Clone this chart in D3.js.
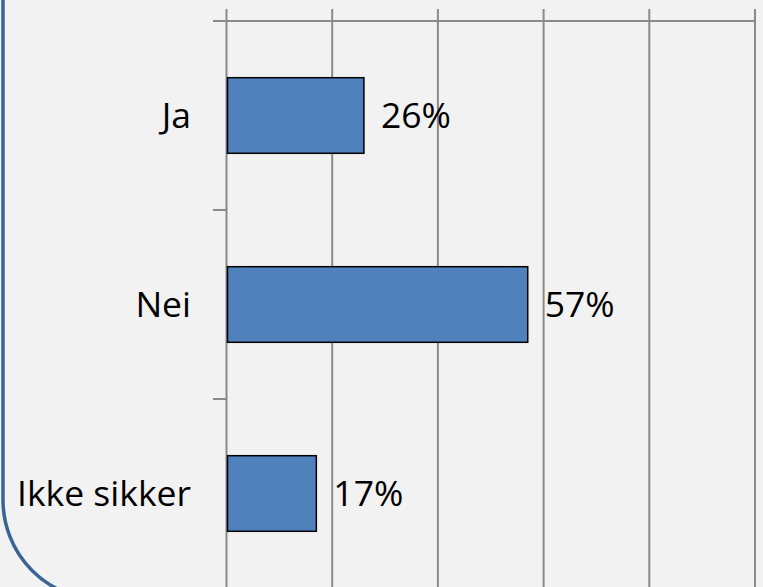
<!DOCTYPE html>
<html>
<head>
<meta charset="utf-8">
<script src="https://cdn.jsdelivr.net/npm/d3@7"></script>
<style>
  html, body { margin: 0; padding: 0; background: #f2f2f2; overflow: hidden; }
  text { font-family: 'Open Sans', sans-serif; fill: #000; }
</style>
</head>
<body>
<script>
var categories = ['Ja', 'Nei', 'Ikke sikker'];
var values = [26, 57, 17];
var valueLabels = ['26%', '57%', '17%'];
var gridTicks = [0, 20, 40, 60, 80, 100];

var width = 763,
    height = 587;

var svg = d3.select('body')
  .append('svg')
  .attr('width', width)
  .attr('height', height);

// background + rounded chart border (only the left / bottom-left shows)
svg.append('rect')
  .attr('width', width)
  .attr('height', height)
  .attr('fill', '#f2f2f2');

svg.append('rect')
  .attr('x', 3)
  .attr('y', -300)
  .attr('width', 1000)
  .attr('height', 900)
  .attr('rx', 100)
  .attr('ry', 100)
  .attr('fill', 'none')
  .attr('stroke', '#3a6494')
  .attr('stroke-width', 3.5);

var x = d3.scaleLinear()
  .domain([0, 100])
  .range([226.5, 755]);

var y = d3.scaleBand()
  .domain(categories)
  .range([21, 588])
  .paddingInner(0.6)
  .paddingOuter(0.3);

// vertical gridlines with tick marks above the top axis
var grid = svg.append('g');
grid.selectAll('line.grid')
  .data(gridTicks)
  .enter()
  .append('line')
  .attr('x1', function(d) { return x(d); })
  .attr('x2', function(d) { return x(d); })
  .attr('y1', 9)
  .attr('y2', height + 5)
  .attr('stroke', '#8a8a8a')
  .attr('stroke-width', 2);

// top value axis line
svg.append('line')
  .attr('x1', 213)
  .attr('x2', x(100) + 1)
  .attr('y1', 21)
  .attr('y2', 21)
  .attr('stroke', '#8a8a8a')
  .attr('stroke-width', 2);

// category tick marks between bands
var step = y.step();
var bounds = [21, 21 + step, 21 + 2 * step];
svg.append('g')
  .selectAll('line')
  .data(bounds.slice(1))
  .enter()
  .append('line')
  .attr('x1', 213)
  .attr('x2', x(0))
  .attr('y1', function(d) { return d; })
  .attr('y2', function(d) { return d; })
  .attr('stroke', '#8a8a8a')
  .attr('stroke-width', 2);

// bars
svg.append('g')
  .selectAll('rect')
  .data(values)
  .enter()
  .append('rect')
  .attr('x', x(0) + 1)
  .attr('y', function(d, i) { return y(categories[i]); })
  .attr('width', function(d) { return x(d) - x(0) - 1; })
  .attr('height', y.bandwidth())
  .attr('fill', '#4f81bd')
  .attr('stroke', '#000')
  .attr('stroke-width', 1.5);

// category labels
svg.append('g')
  .selectAll('text')
  .data(categories)
  .enter()
  .append('text')
  .attr('x', 191)
  .attr('y', function(d) { return y(d) + y.bandwidth() / 2; })
  .attr('dy', '0.34em')
  .attr('text-anchor', 'end')
  .style('font-size', '35.5px')
  .text(function(d) { return d; });

// value labels
svg.append('g')
  .selectAll('text')
  .data(values)
  .enter()
  .append('text')
  .attr('x', function(d) { return x(d) + 17; })
  .attr('y', function(d, i) { return y(categories[i]) + y.bandwidth() / 2; })
  .attr('dy', '0.34em')
  .style('font-size', '35.5px')
  .text(function(d, i) { return valueLabels[i]; });
</script>
</body>
</html>
